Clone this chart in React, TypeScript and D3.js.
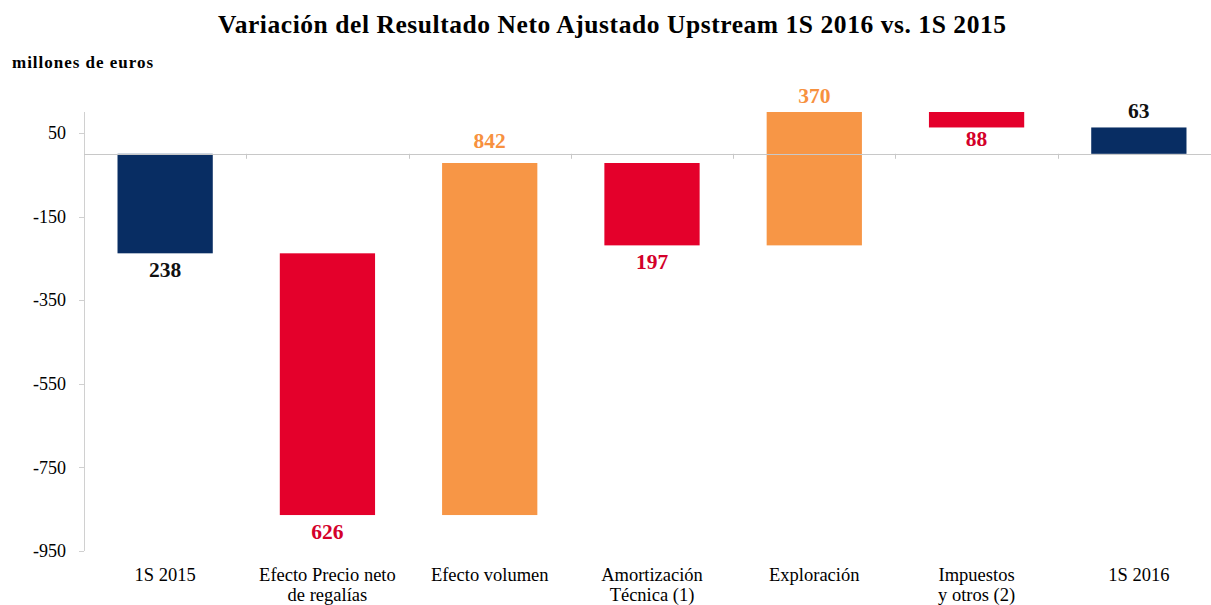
import React from "react";
import * as d3 from "d3";

const categories: string[][] = [
  ["1S 2015"],
  ["Efecto Precio neto", "de regalías"],
  ["Efecto volumen"],
  ["Amortización", "Técnica (1)"],
  ["Exploración"],
  ["Impuestos", "y otros (2)"],
  ["1S 2016"],
];
const changes: number[] = [-238, -626, 842, -197, 370, -88, 63];
const kinds: string[] = ["total", "neg", "pos", "neg", "pos", "neg", "total"];
const valueLabels: string[] = ["238", "626", "842", "197", "370", "88", "63"];
const yTicks: number[] = [50, -150, -350, -550, -750, -950];

const W = 1211;
const H = 605;
const FONT = "Liberation Serif, Tinos, DejaVu Serif, Noto Serif, Times New Roman, serif";
const barColor: Record<string, string> = { total: "#082D63", neg: "#E4002B", pos: "#F79646" };
const textColor: Record<string, string> = { total: "#111111", neg: "#D4002A", pos: "#F7913F" };

export default function App() {
  const left = 84;
  const right = 1220;
  const top = 112;
  const bottom = 551;
  const y = d3.scaleLinear().domain([-950, 100]).range([bottom, top]);
  const x = d3
    .scaleBand<number>()
    .domain(d3.range(categories.length))
    .range([left, right])
    .paddingInner(0.413)
    .paddingOuter(0.2065);
  const step = x.step();

  let run = 0;
  const bars = changes.map((c, i) => {
    let start: number, end: number;
    if (kinds[i] === "total") {
      start = 0;
      end = c;
      run = c;
    } else {
      start = run;
      end = run + c;
      run = end;
    }
    const lo = Math.max(Math.min(start, end), -950);
    const hi = Math.min(Math.max(start, end), 100);
    return { i, start, end, lo, hi, down: end < start };
  });

  const y0 = y(0);

  return (
    <svg width={W} height={H} style={{ display: "block", position: "absolute", left: 0, top: 0, background: "#fff" }}>
      <text
        x={218}
        y={33.3}
        fontFamily={FONT}
        fontWeight="bold"
        fontSize={25.5}
        textLength={788}
        lengthAdjust="spacing"
        fill="#000"
      >
        Variación del Resultado Neto Ajustado Upstream 1S 2016 vs. 1S 2015
      </text>
      <text x={12} y={68} fontFamily={FONT} fontWeight="bold" fontSize={17} textLength={141} lengthAdjust="spacing" fill="#000">
        millones de euros
      </text>

      {/* y axis */}
      <line x1={left + 0.5} x2={left + 0.5} y1={top} y2={bottom} stroke="#d0d0d0" strokeWidth={1} />
      {yTicks.map((t) => (
        <g key={t}>
          <line x1={left - 5} x2={left} y1={Math.round(y(t)) + 0.5} y2={Math.round(y(t)) + 0.5} stroke="#d0d0d0" />
          <text x={66} y={y(t) + 6.3} textAnchor="end" fontFamily={FONT} fontSize={18} fill="#000">
            {t}
          </text>
        </g>
      ))}

      {/* bars */}
      {bars.map((b) => (
        <rect
          key={b.i}
          x={x(b.i)!}
          y={y(b.hi)}
          width={x.bandwidth()}
          height={y(b.lo) - y(b.hi)}
          fill={barColor[kinds[b.i]]}
        />
      ))}

      {/* category axis at zero */}
      <line x1={left} x2={W} y1={Math.round(y0) + 0.5} y2={Math.round(y0) + 0.5} stroke="#c8c8c8" strokeWidth={1.2} />
      {d3.range(1, categories.length).map((k) => (
        <line
          key={k}
          x1={Math.round(left + k * step) + 0.5}
          x2={Math.round(left + k * step) + 0.5}
          y1={y0}
          y2={y0 + 5}
          stroke="#c8c8c8"
        />
      ))}

      {/* value labels */}
      {bars.map((b) => {
        const cx = x(b.i)! + x.bandwidth() / 2;
        let ly: number;
        if (b.down) {
          ly = y(b.lo) + 23.5;
          if (y(b.lo) < y0) ly = Math.min(ly, y0 - 7.5);
        } else {
          ly = Math.min(y(b.hi) - 9, y0 - 6);
        }
        return (
          <text
            key={b.i}
            x={cx}
            y={ly}
            textAnchor="middle"
            fontFamily={FONT}
            fontWeight="bold"
            fontSize={21.5}
            fill={textColor[kinds[b.i]]}
          >
            {valueLabels[b.i]}
          </text>
        );
      })}

      {/* category labels */}
      {categories.map((lines, i) => (
        <text key={i} x={x(i)! + x.bandwidth() / 2} textAnchor="middle" fontFamily={FONT} fontSize={18.5} fill="#000">
          {lines.map((l, j) => (
            <tspan key={j} x={x(i)! + x.bandwidth() / 2} y={580.5 + j * 20}>
              {l}
            </tspan>
          ))}
        </text>
      ))}
    </svg>
  );
}
